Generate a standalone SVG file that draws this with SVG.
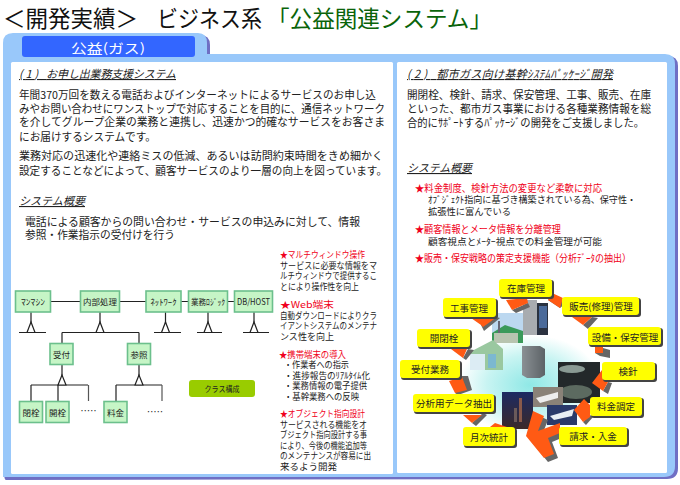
<svg xmlns="http://www.w3.org/2000/svg" width="680" height="485" viewBox="0 0 680 485">
<defs>
<style>
text{font-family:"Noto Sans CJK JP","Liberation Sans",sans-serif;fill:#222}
.t{font-size:11px}
.h{font-size:11px;font-style:italic;text-decoration:underline}
.r{font-size:9px;fill:#f00020}
.s{font-size:9px}
.big{font-size:23px;fill:#111}
.n{fill:#c6f5c6;stroke:#6cc08c;stroke-width:1.6}
.nt{font-size:8.5px;text-anchor:middle;fill:#222}
.l{stroke:#222;stroke-width:1.2;fill:none}
.g{stroke:#555;stroke-width:1.2;fill:none}
.tri{fill:#fff;stroke:#222;stroke-width:1.2}
.y{fill:#ffff00}
.ys{fill:#444}
.yt{font-size:9.5px;text-anchor:middle;fill:#222}
.o{fill:#ff5a14}
.sh{fill:#666}
</style>
<radialGradient id="bg"><stop offset="0" stop-color="#8fe8e6"/><stop offset="0.6" stop-color="#c8f4f2"/><stop offset="1" stop-color="#ffffff"/></radialGradient>
<linearGradient id="sv" x1="0" y1="0" x2="1" y2="0"><stop offset="0" stop-color="#8a9094"/><stop offset="1" stop-color="#5c6266"/></linearGradient>
<linearGradient id="nt" x1="0" y1="0" x2="0" y2="1"><stop offset="0" stop-color="#1c2a62"/><stop offset="1" stop-color="#3b2a2a"/></linearGradient>
</defs>
<rect width="680" height="485" fill="#fff"/>

<g id="title">
<text class="big" x="3" y="27" textLength="135" lengthAdjust="spacingAndGlyphs">＜開発実績＞</text>
<text class="big" x="157" y="27" textLength="105" lengthAdjust="spacingAndGlyphs">ビジネス系</text>
<text class="big" x="267" y="27" textLength="225" lengthAdjust="spacingAndGlyphs" style="fill:#0a640a">「公益関連システム」</text>
</g>

<g id="panel">
<path d="M6 480 Q4 480 4 470 V44 Q4 35 14 35 H200 Q210 35 210 45 V56 H668 Q678 56 678 66 V468 Q678 479 667 479 Z" fill="#6f6fc4"/>
<path d="M3 477 V43 Q3 33 13 33 H198 Q207 33 207 43 V54 H665 Q675 54 675 64 V466 Q675 477 664 477 Z" fill="#99c8fa"/>
<rect x="22" y="36" width="173" height="21" rx="3" fill="#3366ff"/>
<text x="108" y="53" font-size="13" text-anchor="middle" style="fill:#fff" textLength="74" lengthAdjust="spacingAndGlyphs">公益(ガス)</text>
<rect x="11" y="62" width="382" height="412" rx="1.5" fill="#fff"/>
<rect x="397" y="62" width="270" height="411" rx="1.5" fill="#fff"/>
</g>

<g id="left-text">
<text class="h" x="19" y="78" textLength="157" lengthAdjust="spacing"><tspan letter-spacing="3">(1) </tspan>お申し出業務支援システム</text>
<text class="t" x="19" y="99" textLength="357" lengthAdjust="spacingAndGlyphs">年間370万回を数える電話およびインターネットによるサービスのお申し込</text>
<text class="t" x="19" y="113" textLength="366" lengthAdjust="spacingAndGlyphs">みやお問い合わせにワンストップで対応することを目的に、通信ネットワーク</text>
<text class="t" x="19" y="126" textLength="366" lengthAdjust="spacingAndGlyphs">を介してグループ企業の業務と連携し、迅速かつ的確なサービスをお客さま</text>
<text class="t" x="19" y="141" textLength="137" lengthAdjust="spacingAndGlyphs">にお届けするシステムです。</text>
<text class="t" x="19" y="160" textLength="364" lengthAdjust="spacingAndGlyphs">業務対応の迅速化や連絡ミスの低減、あるいは訪問約束時間をきめ細かく</text>
<text class="t" x="19" y="175" textLength="368" lengthAdjust="spacingAndGlyphs">設定することなどによって、顧客サービスのより一層の向上を図っています。</text>
<text class="h" x="19" y="205" textLength="66" lengthAdjust="spacingAndGlyphs">システム概要</text>
<text class="t" x="25" y="226" textLength="335" lengthAdjust="spacingAndGlyphs">電話による顧客からの問い合わせ・サービスの申込みに対して、情報</text>
<text class="t" x="25" y="239" textLength="150" lengthAdjust="spacingAndGlyphs">参照・作業指示の受付けを行う</text>
</g>

<g id="notes">
<text class="r" x="280" y="258" textLength="85" lengthAdjust="spacingAndGlyphs">★マルチウィンドウ操作</text>
<text class="s" x="280" y="269" textLength="97" lengthAdjust="spacingAndGlyphs">サービスに必要な情報をマ</text>
<text class="s" x="280" y="279" textLength="97" lengthAdjust="spacingAndGlyphs">ルチウィンドウで提供するこ</text>
<text class="s" x="280" y="290" textLength="79" lengthAdjust="spacingAndGlyphs">とにより操作性を向上</text>
<text class="r" x="280" y="308" textLength="54" lengthAdjust="spacingAndGlyphs">★Web端末</text>
<text class="s" x="280" y="319" textLength="97" lengthAdjust="spacingAndGlyphs">自動ダウンロードによりクラ</text>
<text class="s" x="280" y="329" textLength="97" lengthAdjust="spacingAndGlyphs">イアントシステムのメンテナ</text>
<text class="s" x="280" y="340" textLength="54" lengthAdjust="spacingAndGlyphs">ンス性を向上</text>
<text class="r" x="279" y="358" textLength="67" lengthAdjust="spacingAndGlyphs">★携帯端末の導入</text>
<text class="s" x="284" y="368" textLength="65" lengthAdjust="spacingAndGlyphs">・作業者への指示</text>
<text class="s" x="284" y="379" textLength="86" lengthAdjust="spacingAndGlyphs">・進捗報告のﾘｱﾙﾀｲﾑ化</text>
<text class="s" x="284" y="389" textLength="83" lengthAdjust="spacingAndGlyphs">・業務情報の電子提供</text>
<text class="s" x="284" y="400" textLength="75" lengthAdjust="spacingAndGlyphs">・基幹業務への反映</text>
<text class="r" x="280" y="417" textLength="85" lengthAdjust="spacingAndGlyphs">★オブジェクト指向設計</text>
<text class="s" x="280" y="428" textLength="87" lengthAdjust="spacingAndGlyphs">サービスされる機能をオ</text>
<text class="s" x="280" y="438" textLength="87" lengthAdjust="spacingAndGlyphs">ブジェクト指向設計する事</text>
<text class="s" x="280" y="449" textLength="87" lengthAdjust="spacingAndGlyphs">により、今後の機能追加等</text>
<text class="s" x="280" y="459" textLength="91" lengthAdjust="spacingAndGlyphs">のメンテナンスが容易に出</text>
<text class="s" x="280" y="470" textLength="57" lengthAdjust="spacingAndGlyphs">来るよう開発</text>
</g>

<g id="connectors">
<path class="l" d="M51 301.5H80M120 301.5H146M181 301.5H188M228 301.5H234"/>
<path class="l" d="M31 312V332.5M19 332.5H46M100 312V332.5M62 332.5H139M62 332.5V343M139 332.5V343M165.500 312V332.5M154 332.500H181M208 312V332.500M197 332.500H222M254 312V332.500M243 332.500H269"/>
<path class="l" d="M62 365V385M31 385H88M31 385V401M58 385V401M139 365V385M116 385H162M116 385V401"/>
<path class="g" d="M88.500 385V401M162 385V401"/>
<path class="tri" d="M31 322L27 332.500H35Z"/>
<path class="tri" d="M100 322L96 332.500H104Z"/>
<path class="tri" d="M165.500 322L161.500 332.500H169.500Z"/>
<path class="tri" d="M208 322L204 332.500H212Z"/>
<path class="tri" d="M254 322L250 332.500H258Z"/>
<path class="tri" d="M62 375L58 385H66Z"/>
<path class="tri" d="M139 375L135 385H143Z"/>
</g>

<g id="n-manmashin"><rect class="n" x="15.500" y="291" width="35" height="21"/><text class="nt" x="33" y="305" textLength="24" lengthAdjust="spacingAndGlyphs">ﾏﾝﾏｼﾝ</text></g>
<g id="n-naibu"><rect class="n" x="80.500" y="291" width="39" height="21"/><text class="nt" x="100" y="305">内部処理</text></g>
<g id="n-network"><rect class="n" x="146" y="291" width="35" height="21"/><text class="nt" x="163.500" y="305" textLength="26" lengthAdjust="spacingAndGlyphs">ﾈｯﾄﾜｰｸ</text></g>
<g id="n-logic"><rect class="n" x="188.500" y="291" width="39" height="21"/><text class="nt" x="208" y="305" textLength="34" lengthAdjust="spacingAndGlyphs">業務ﾛｼﾞｯｸ</text></g>
<g id="n-db"><rect class="n" x="234.500" y="291" width="38" height="21"/><text class="nt" x="253.500" y="305" textLength="33" lengthAdjust="spacingAndGlyphs">DB/HOST</text></g>
<g id="n-uketsuke"><rect class="n" x="50" y="343.500" width="23" height="21"/><text class="nt" x="61.500" y="358">受付</text></g>
<g id="n-sansho"><rect class="n" x="127.500" y="343.500" width="23" height="21"/><text class="nt" x="139" y="358">参照</text></g>
<g id="n-heisen"><rect class="n" x="19.500" y="401.500" width="23" height="21"/><text class="nt" x="31" y="416">閉栓</text></g>
<g id="n-kaisen"><rect class="n" x="46" y="401.500" width="23" height="21"/><text class="nt" x="57.500" y="416">開栓</text></g>
<g id="n-ryokin"><rect class="n" x="104" y="401.500" width="23" height="21"/><text class="nt" x="115.500" y="416">料金</text></g>
<text x="88.500" y="414" font-size="9" text-anchor="middle" textLength="18" lengthAdjust="spacing">·····</text>
<text x="155" y="415" font-size="9" text-anchor="middle" textLength="18" lengthAdjust="spacing">·····</text>
<g id="n-class"><rect x="189" y="380" width="66" height="17" rx="3" fill="#99cc00"/><text class="nt" x="222" y="392" textLength="35" lengthAdjust="spacingAndGlyphs">クラス構成</text></g>

<g id="right-text">
<text class="h" x="407" y="78" textLength="206" lengthAdjust="spacing"><tspan letter-spacing="3">(2) </tspan>都市ガス向け基幹ｼｽﾃﾑﾊﾟｯｹｰｼﾞ開発</text>
<text class="t" x="407" y="99" textLength="244" lengthAdjust="spacingAndGlyphs">開閉栓、検針、請求、保安管理、工事、販売、在庫</text>
<text class="t" x="407" y="113" textLength="244" lengthAdjust="spacingAndGlyphs">といった、都市ガス事業における各種業務情報を総</text>
<text class="t" x="407" y="127" textLength="237" lengthAdjust="spacingAndGlyphs">合的にｻﾎﾟｰﾄするﾊﾟｯｹｰｼﾞの開発をご支援しました。</text>
<text class="h" x="407" y="172" textLength="65" lengthAdjust="spacingAndGlyphs">システム概要</text>
<text x="415" y="192" font-size="10" style="fill:#f00020" textLength="187" lengthAdjust="spacingAndGlyphs">★料金制度、検針方法の変更など柔軟に対応</text>
<text x="428" y="203" font-size="9.500" textLength="208" lengthAdjust="spacingAndGlyphs">ｵﾌﾞｼﾞｪｸﾄ指向に基づき構築されている為、保守性・</text>
<text x="428" y="215" font-size="9.500" textLength="83" lengthAdjust="spacingAndGlyphs">拡張性に富んでいる</text>
<text x="415" y="233" font-size="10" style="fill:#f00020" textLength="146" lengthAdjust="spacingAndGlyphs">★顧客情報とメータ情報を分離管理</text>
<text x="428" y="245" font-size="9.500" textLength="174" lengthAdjust="spacingAndGlyphs">顧客視点とﾒｰﾀｰ視点での料金管理が可能</text>
<text x="415" y="262" font-size="10" style="fill:#f00020" textLength="216" lengthAdjust="spacingAndGlyphs">★販売・保安戦略の策定支援機能（分析ﾃﾞｰﾀの抽出）</text>
</g>

<g id="collage">
<ellipse cx="530" cy="385" rx="72" ry="50" fill="url(#bg)"/>
<rect x="523" y="300" width="14" height="35" fill="#a8acb0"/><rect x="537" y="303" width="11" height="32" fill="#2a3240"/><rect x="539" y="306" width="8" height="22" fill="#4a6a9a"/>
<rect x="492" y="313" width="31" height="30" fill="#bcd8f0"/><path d="M492 333L505 325 523 331V343H492Z" fill="#3a9a5a"/><rect x="494" y="333" width="24" height="10" fill="#b8c4b0"/><rect x="498" y="321" width="2" height="12" fill="#667"/>
<path d="M470 370V352L493 340 503 349V370Z" fill="#9ac8a0"/><path d="M470 354H485V370H470Z" fill="#dcecf4"/><rect x="488" y="354" width="8" height="14" fill="#7cb8d0"/>
<path d="M522 346H540L545 349V375L540 378H527L522 375Z" fill="url(#sv)"/>
<rect x="558" y="362" width="42" height="41" fill="#23282a"/><ellipse cx="576" cy="392" rx="16" ry="7" fill="#5c6a60"/><ellipse cx="572" cy="369" rx="13" ry="4" fill="#8a9a94"/>
<rect x="502" y="392" width="31" height="37" fill="url(#nt)"/><rect x="519" y="398" width="3" height="24" fill="#8a5a4a"/><rect x="514" y="408" width="3" height="14" fill="#6a5a5a"/>
<rect x="533" y="387" width="30" height="20" fill="#8a8278"/><path d="M536 398L558 392V398L540 403Z" fill="#eee"/>
<rect x="547" y="405" width="30" height="20" fill="#2a3a6a"/><path d="M550 416L574 409 572 416 554 420Z" fill="#e8eef4"/>
</g>

<g id="arrows">
<path class="sh" d="M512 310L528 303 530 307 516 313ZM548 300L560 308 566 303 552 297ZM481 325L496 317 500 318 484 331ZM583 325L592 317 598 318 588 329ZM595 353L603 348 610 350 610 358 600 356ZM463 358L468 349 474 350 466 360ZM462 376L468 376 472 390 458 395 455 393ZM472 423L483 413 487 415 476 426ZM603 391L608 382 612 383 608 394ZM583 422L590 415 593 417 586 425Z"/>
<path class="o" d="M506 300L527 298 528 303 512 310ZM552 293L563 298 560 308 548 300ZM471 318L497 317 483 327 481 325ZM572 317L592 317 583 325ZM595 347L603 347 603 353 595 353ZM451 349L467 349 463 358ZM449 381L462 377 467 390 455 393ZM463 415L482 415 472 423ZM592 383L602 370 608 382 603 391ZM574 410L584 399 590 405 590 417 583 422ZM490 427L495 423 507 427Z"/>
<path class="sh" d="M530 440L537 415 548 420 542 435 564 427 564 437 552 442 558 458 548 462Z"/>
<path class="o" d="M526 436L533 411 544 416 538 431 560 423V433L548 438 554 454 544 458Z"/>
</g>

<g id="labels">
<rect class="ys" x="500" y="280" width="54" height="19" rx="3"/><rect class="y" x="499" y="279" width="53" height="18" rx="3"/><text class="yt" x="526" y="292">在庫管理</text>
<rect class="ys" x="563" y="298" width="78" height="19" rx="3"/><rect class="y" x="562" y="297" width="77" height="18" rx="3"/><text class="yt" x="601" y="310">販売(修理)管理</text>
<rect class="ys" x="444" y="299" width="54" height="20" rx="3"/><rect class="y" x="443" y="298" width="53" height="19" rx="3"/><text class="yt" x="469" y="312">工事管理</text>
<rect class="ys" x="589" y="328" width="74" height="19" rx="3"/><rect class="y" x="588" y="327" width="73" height="18" rx="3"/><text class="yt" x="625" y="341">設備・保安管理</text>
<rect class="ys" x="418" y="330" width="54" height="19" rx="3"/><rect class="y" x="417" y="329" width="53" height="18" rx="3"/><text class="yt" x="444" y="342">開閉栓</text>
<rect class="ys" x="401" y="361" width="61" height="19" rx="3"/><rect class="y" x="400" y="360" width="60" height="18" rx="3"/><text class="yt" x="430" y="373">受付業務</text>
<rect class="ys" x="603" y="363" width="54" height="19" rx="3"/><rect class="y" x="602" y="362" width="53" height="18" rx="3"/><text class="yt" x="628" y="375">検針</text>
<rect class="ys" x="591" y="398" width="53" height="20" rx="3"/><rect class="y" x="590" y="397" width="52" height="19" rx="3"/><text class="yt" x="616" y="410">料金調定</text>
<rect class="ys" x="414" y="395" width="82" height="19" rx="3"/><rect class="y" x="413" y="394" width="81" height="18" rx="3"/><text class="yt" x="454" y="407">分析用データ抽出</text>
<rect class="ys" x="560" y="428" width="69" height="19" rx="3"/><rect class="y" x="559" y="427" width="68" height="18" rx="3"/><text class="yt" x="593" y="440">請求・入金</text>
<rect class="ys" x="464" y="428" width="53" height="20" rx="3"/><rect class="y" x="463" y="427" width="52" height="19" rx="3"/><text class="yt" x="489" y="441">月次統計</text>
</g>
</svg>
